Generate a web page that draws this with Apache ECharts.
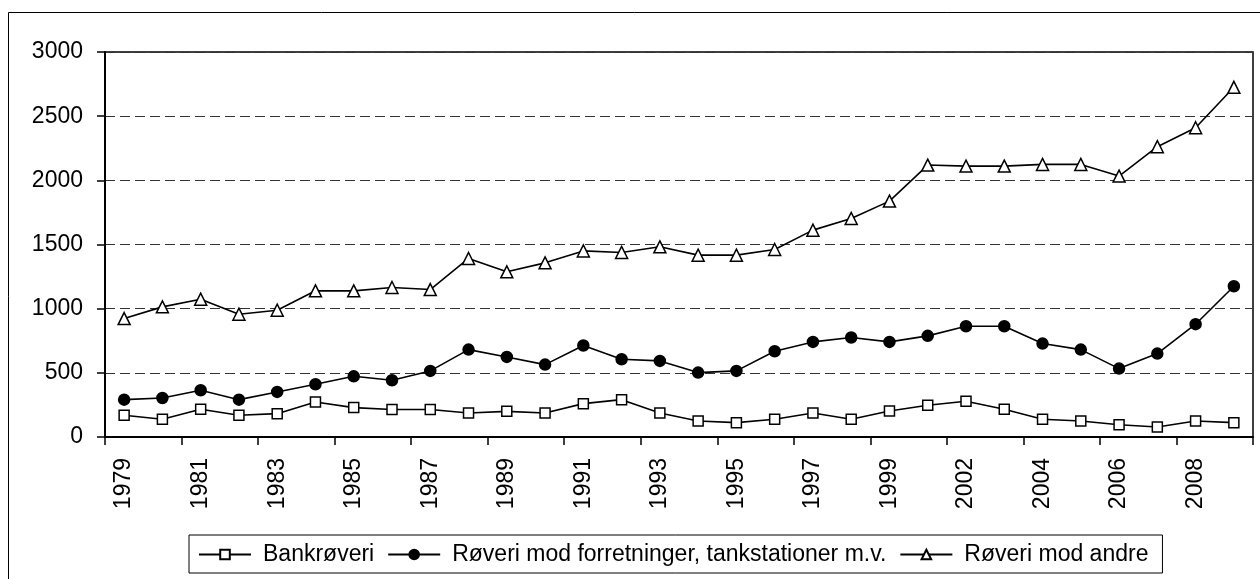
<!DOCTYPE html>
<html>
<head>
    <meta charset="utf-8">
    <title>Røverier 1979-2009</title>
    <script src="https://cdn.jsdelivr.net/npm/echarts@6/dist/echarts.min.js"></script>
    <style>
        body {
            margin: 0;
            padding: 0;
            background-color: #fff;
        }

        #chart {
            width: 1260px;
            height: 579px;
        }
    </style>
</head>
<body>
    <div id="chart"></div>

    <script>
        var years = ['1979', '1980', '1981', '1982', '1983', '1984', '1985', '1986', '1987', '1988',
                     '1989', '1990', '1991', '1992', '1993', '1994', '1995', '1996', '1997', '1998',
                     '1999', '2001', '2002', '2003', '2004', '2005', '2006', '2007', '2008', '2009'];

        var bankroeveri = [169, 138, 216, 169, 182, 273, 229, 214, 214, 187,
                           200, 187, 260, 291, 187, 125, 112, 138, 187, 138,
                           203, 247, 278, 216, 138, 125, 96, 78, 125, 112];

        var forretninger = [291, 304, 364, 291, 351, 411, 473, 442, 515, 681,
                            624, 564, 713, 606, 593, 502, 515, 668, 741, 775,
                            741, 788, 863, 863, 728, 681, 533, 650, 879, 1175];

        var andre = [923, 1014, 1074, 957, 988, 1139, 1139, 1165, 1149, 1391,
                     1287, 1357, 1450, 1438, 1482, 1417, 1417, 1461, 1612, 1703,
                     1838, 2119, 2111, 2111, 2124, 2124, 2033, 2262, 2410, 2725];

        var font = "'Liberation Sans', Arial, sans-serif";

        var chart = echarts.init(document.getElementById('chart'));

        function lineSeries(name, data, symbol, fill, size) {
            return {
                name: name,
                type: 'line',
                data: data,
                symbol: symbol,
                symbolSize: size,
                showAllSymbol: true,
                animation: false,
                lineStyle: { color: '#000', width: 1.6 },
                itemStyle: { color: fill, borderColor: '#000', borderWidth: 1.5 }
            };
        }

        var option = {
            backgroundColor: '#fff',
            animation: false,
            graphic: [{
                type: 'rect',
                shape: { x: 8.5, y: 12.5, width: 1400, height: 700 },
                style: { fill: 'none', stroke: '#000', lineWidth: 1 },
                z: -1
            }],
            grid: {
                left: 105,
                top: 52,
                right: 7,
                bottom: 142,
                show: true,
                borderColor: '#000',
                borderWidth: 1.5
            },
            legend: {
                left: 189,
                top: 535,
                padding: [8, 14, 7, 9],
                itemGap: 13,
                itemWidth: 52,
                itemHeight: 12,
                borderColor: '#000',
                borderWidth: 1,
                textStyle: {
                    fontFamily: font,
                    fontSize: 23,
                    color: '#000',
                    padding: [0, 0, 0, 7]
                },
                data: ['Bankrøveri', 'Røveri mod forretninger, tankstationer m.v.', 'Røveri mod andre']
            },
            xAxis: {
                type: 'category',
                data: years,
                boundaryGap: true,
                axisLine: { lineStyle: { color: '#000', width: 2 } },
                axisTick: { show: true, length: 8, inside: false, lineStyle: { color: '#000', width: 1.5 } },
                axisLabel: {
                    interval: 1,
                    rotate: 90,
                    margin: 21,
                    fontFamily: font,
                    fontSize: 23,
                    color: '#000'
                },
                splitLine: { show: false }
            },
            yAxis: {
                type: 'value',
                min: 0,
                max: 3000,
                interval: 500,
                axisLine: { show: true, lineStyle: { color: '#000', width: 2 } },
                axisTick: { show: true, length: 8, lineStyle: { color: '#000', width: 1.5 } },
                axisLabel: {
                    margin: 22,
                    fontFamily: font,
                    fontSize: 23,
                    color: '#000',
                    formatter: function (v) { return String(v); }
                },
                splitLine: {
                    show: true,
                    lineStyle: { color: '#333', width: 1, type: [10, 5] }
                }
            },
            series: [
                lineSeries('Bankrøveri', bankroeveri, 'rect', '#fff', 10),
                lineSeries('Røveri mod forretninger, tankstationer m.v.', forretninger, 'circle', '#000', 11),
                lineSeries('Røveri mod andre', andre, 'triangle', '#fff', 12)
            ]
        };

        chart.setOption(option);
    </script>
</body>
</html>
